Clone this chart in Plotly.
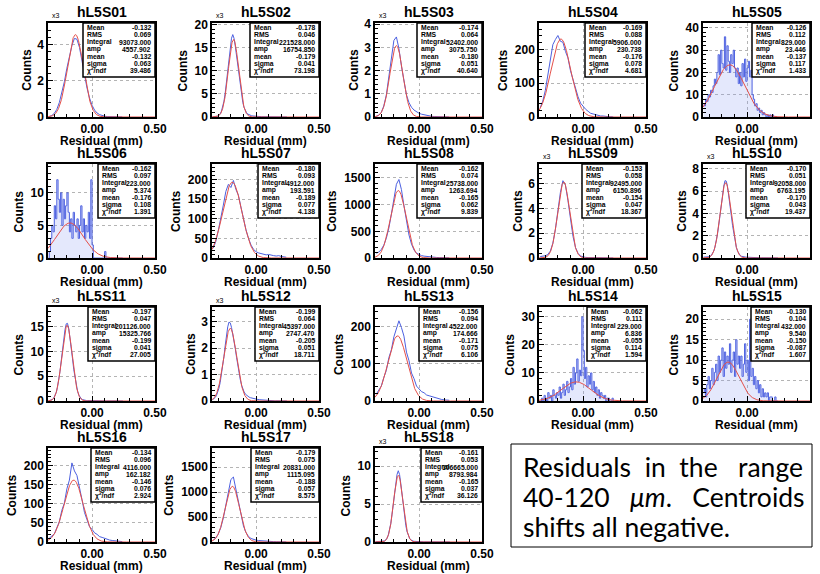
import numpy as np
import plotly.graph_objects as go

# ---------------------------------------------------------------- data
NAMES = ["hL5S01", "hL5S02", "hL5S03", "hL5S04", "hL5S05", "hL5S06",
         "hL5S07", "hL5S08", "hL5S09", "hL5S10", "hL5S11", "hL5S12",
         "hL5S13", "hL5S14", "hL5S15", "hL5S16", "hL5S17", "hL5S18"]

# bin width of each stored histogram; first bin starts at -0.35 mm
BIN_WIDTH = [0.02, 0.01, 0.02, 0.02, 0.01, 0.01, 0.02, 0.02, 0.02,
             0.01, 0.01, 0.01, 0.02, 0.01, 0.01, 0.02, 0.02, 0.01]

# bin contents (counts per bin)
hist_S01 = [30, 80, 200, 420, 800, 1300, 1950, 2700, 3400, 3950, 4350, 4300, 3850, 3100, 2300,
            1600, 1050, 650, 380, 220, 130, 80, 45, 25, 15, 8, 5, 3, 2, 1]
hist_S02 = [20, 30, 50, 90, 180, 360, 680, 1250, 2100, 3400, 5200, 7400, 9900, 12500, 15000,
            17000, 17800, 17000, 15300, 13200, 10800, 8500, 6300, 4500, 3100, 2050, 1350, 900, 620, 450,
            340, 270, 220, 180, 150, 130, 110, 95, 80, 70, 60, 52, 45, 38, 32,
            27, 22, 18, 15, 12, 10, 8, 7, 6, 5, 4, 3, 3, 2, 2]
hist_S03 = [30, 80, 200, 480, 950, 1700, 2550, 3300, 3450, 2950, 2200, 1500, 950, 620, 420,
            300, 220, 160, 120, 90, 65, 45, 30, 20, 12, 8, 5, 3, 2, 1]
hist_S04 = [28, 47, 78, 124, 166, 214, 229, 241, 224, 221, 194, 175, 137, 111, 80,
            60, 41, 31, 23, 17, 11, 9, 7, 4, 3, 3, 1, 1, 1, 0]
hist_S05 = [6, 5, 8, 7, 10, 9, 12, 11, 14, 17, 15, 20, 28, 19, 30, 24, 22, 36, 21, 32,
            25, 20, 28, 24, 30, 22, 18, 22, 15, 20, 14, 24, 18, 26, 16, 22, 25, 18, 21, 10,
            8, 5, 6, 3, 4, 2, 3, 1, 2, 1, 0, 1, 0, 1, 0, 1, 0, 0, 0, 0]
hist_S06 = [0, 1, 3, 5, 4, 8, 6, 12, 9, 7, 10, 5, 9, 6, 8, 10, 7, 4, 6, 3,
            7, 5, 4, 6, 3, 5, 8, 4, 6, 3, 5, 4, 7, 3, 12, 2, 0, 0, 0, 0,
            0, 0, 0, 0, 0, 1, 0, 0, 0, 0, 0, 0, 0, 0, 0, 0, 0, 0, 0, 0]
hist_S07 = [25, 42, 70, 100, 135, 170, 188, 180, 198, 175, 160, 130, 100, 72, 50,
            33, 22, 16, 13, 11, 10, 8, 9, 7, 6, 5, 6, 4, 3, 2]
hist_S08 = [90, 110, 160, 240, 370, 560, 820, 1080, 1380, 1470, 1280, 980, 680, 430, 260,
            150, 90, 60, 45, 35, 28, 22, 17, 13, 10, 8, 6, 4, 3, 2]
hist_S09 = [120, 150, 180, 280, 560, 1200, 2300, 3800, 5300, 6250, 5900, 4650, 3100, 1750, 850,
            380, 160, 80, 50, 35, 25, 18, 12, 9, 7, 5, 4, 3, 2, 1]
hist_S10 = [80, 80, 90, 90, 100, 120, 220, 370, 620, 980, 1500, 2150, 2950, 3850, 4850,
            5750, 6450, 6950, 6900, 6400, 5650, 4750, 3800, 2900, 2100, 1450, 950, 600, 380, 240,
            160, 120, 100, 85, 75, 65, 55, 50, 45, 40, 35, 30, 27, 24, 21,
            18, 16, 14, 12, 10, 9, 8, 7, 6, 5, 4, 3, 3, 2, 2]
hist_S11 = [40, 80, 160, 300, 560, 1000, 1700, 2750, 4150, 5950, 8100, 10400, 12600, 14400, 15600,
            15700, 14600, 12800, 10700, 8500, 6300, 4500, 3050, 1950, 1200, 720, 430, 270, 180, 130,
            100, 80, 65, 55, 45, 38, 32, 27, 22, 18, 15, 12, 10, 8, 7,
            6, 5, 4, 3, 3, 2, 2, 2, 1, 1, 1, 1, 0, 0, 0]
hist_S12 = [50, 80, 130, 200, 320, 480, 700, 980, 1300, 1680, 2100, 2500, 2800, 2980, 2950,
            2780, 2550, 2280, 1980, 1650, 1330, 1050, 800, 600, 450, 340, 260, 210, 170, 145,
            125, 110, 95, 85, 75, 65, 57, 50, 44, 38, 33, 28, 24, 20, 17,
            14, 12, 10, 8, 7, 6, 5, 4, 3, 3, 2, 2, 1, 1, 1]
hist_S13 = [18, 30, 40, 63, 82, 116, 137, 172, 191, 215, 197, 174, 131, 108, 75,
            60, 40, 33, 25, 22, 16, 14, 12, 8, 7, 6, 4, 3, 2, 2]
hist_S14 = [0, 0, 1, 0, 2, 1, 0, 3, 1, 2, 0, 4, 2, 1, 3, 2, 5, 1, 3, 6,
            2, 4, 7, 3, 5, 8, 4, 12, 6, 10, 15, 7, 11, 9, 30, 18, 8, 12, 5, 9,
            6, 10, 4, 7, 3, 5, 2, 4, 1, 3, 2, 1, 2, 0, 1, 1, 0, 0, 1, 0]
hist_S15 = [2, 3, 1, 4, 6, 3, 5, 8, 4, 7, 9, 5, 11, 7, 10, 13, 6, 12, 8, 11,
            9, 14, 7, 10, 12, 6, 15, 9, 11, 8, 11, 6, 9, 14, 7, 10, 5, 20, 6, 8,
            4, 6, 3, 5, 2, 4, 1, 3, 1, 2, 1, 2, 0, 1, 1, 0, 0, 1, 0, 0]
hist_S16 = [10, 16, 21, 37, 53, 83, 102, 139, 162, 207, 186, 174, 137, 111, 77,
            60, 40, 33, 24, 20, 14, 12, 9, 7, 5, 4, 3, 2, 2, 1]
hist_S17 = [40, 80, 160, 290, 480, 730, 1000, 1250, 1300, 1050, 760, 510, 320, 190, 110,
            70, 50, 38, 30, 24, 19, 15, 12, 9, 7, 5, 4, 3, 2, 1]
hist_S18 = [30, 35, 40, 45, 50, 60, 80, 130, 250, 480, 880, 1500, 2400, 3600, 5000,
            6500, 7900, 8900, 9400, 8900, 7700, 6200, 4600, 3250, 2150, 1350, 820, 480, 280, 170,
            110, 80, 60, 48, 40, 34, 29, 25, 21, 18, 15, 13, 11, 9, 8,
            7, 6, 5, 4, 4, 3, 3, 2, 2, 2, 1, 1, 1, 1, 0]

HISTS = [hist_S01, hist_S02, hist_S03, hist_S04, hist_S05, hist_S06, hist_S07, hist_S08, hist_S09,
         hist_S10, hist_S11, hist_S12, hist_S13, hist_S14, hist_S15, hist_S16, hist_S17, hist_S18]

# statistics of each histogram
HIST_MEAN = [-0.132, -0.178, -0.174, -0.169, -0.126, -0.162, -0.180, -0.162, -0.153,
             -0.170, -0.197, -0.199, -0.156, -0.062, -0.130, -0.134, -0.179, -0.161]
HIST_RMS = [0.069, 0.046, 0.064, 0.088, 0.112, 0.097, 0.093, 0.074, 0.058,
            0.051, 0.047, 0.064, 0.094, 0.111, 0.104, 0.096, 0.075, 0.053]
HIST_INTEGRAL = [93073, 221528, 52402, 5906, 829, 223, 4912, 25738, 92495,
                 92058, 201126, 45397, 4522, 229, 432, 4116, 20831, 106665]

# gaussian fit results
FIT_AMP = [4557.902, 16754.850, 3075.750, 230.738, 23.446, 5.374, 193.591, 1263.694, 6150.896,
           6763.195, 15325.766, 2747.470, 174.666, 6.836, 9.540, 162.182, 1115.095, 8793.984]
FIT_MEAN = [-0.132, -0.179, -0.180, -0.176, -0.137, -0.176, -0.189, -0.165, -0.154,
            -0.170, -0.199, -0.205, -0.171, -0.055, -0.150, -0.146, -0.188, -0.165]
FIT_SIGMA = [0.063, 0.041, 0.051, 0.078, 0.117, 0.108, 0.077, 0.062, 0.047,
             0.043, 0.041, 0.051, 0.075, 0.114, -0.087, 0.076, 0.057, 0.037]
FIT_CHI2 = [39.486, 73.198, 40.640, 4.681, 1.433, 1.391, 4.138, 9.839, 18.367,
            19.437, 27.005, 18.711, 6.106, 1.594, 1.607, 2.924, 8.575, 36.126]

# y axis settings (top of range in axis units, major tick step, power of ten)
Y_MAX = [5.2, 20.3, 4.05, 278, 42.2, 14.4, 240, 1760, 7.6,
         8.44, 19.0, 3.55, 252, 33.5, 23.0, 246, 1880, 12.4]
Y_DTICK = [2, 5, 1, 100, 10, 5, 50, 500, 2, 2, 5, 1, 100, 10, 5, 50, 500, 5]
Y_EXP = [3, 3, 3, 0, 0, 0, 0, 0, 3, 3, 3, 3, 0, 0, 0, 0, 0, 3]

NOISY = {"hL5S05", "hL5S06", "hL5S14", "hL5S15"}

NB = "\u00a0"
NOTE_LINES = ["Residuals" + NB * 2 + "in" + NB * 2 + "the" + NB * 3 + "range",
              "40-120" + NB * 3 + "<i>μm</i>." + NB * 3 + "Centroids",
              "shifts all negative."]

# ---------------------------------------------------------------- layout geometry (px)
W, H = 820, 574
COL_LEFT = [48, 212, 375, 539, 703]
ROW_TOP = [23, 164, 307, 448]
PLOT_W, PLOT_H = 107, 94
STAT_W = [72, 69, 65, 61, 58, 57, 61, 65, 64, 64, 67, 64, 63, 59, 59, 64, 68, 61]
STAT_H = 54
X_RANGE = [-0.35, 0.5]

BLUE = "#4c60e0"
RED = "#e5504a"
FONT = "Liberation Sans"


def px(x):
    return x / W


def py(y):
    return 1 - y / H


fig = go.Figure()
annotations = []
shapes = []

stat_labels = ["Mean", "RMS", "Integral", "amp", "mean", "sigma", "χ<sup>2</sup>/ndf"]
axis_font = dict(family=FONT, size=12, color="black", weight="bold")

for k, name in enumerate(NAMES):
    r, c = divmod(k, 5)
    x0, y0 = COL_LEFT[c], ROW_TOP[r]
    suffix = "" if k == 0 else str(k + 1)
    scale = 10 ** Y_EXP[k]

    counts = np.array(HISTS[k], dtype=float) / scale
    centres = X_RANGE[0] + BIN_WIDTH[k] * (np.arange(len(counts)) + 0.5)
    noisy = name in NOISY
    fig.add_trace(go.Scatter(
        x=centres, y=counts, mode="lines",
        line=dict(color=BLUE, width=1, shape="hvh" if noisy else "linear"),
        fill="tozeroy" if noisy else "none",
        fillcolor="rgba(130,150,240,0.22)",
        xaxis="x" + suffix, yaxis="y" + suffix,
        hoverinfo="skip", showlegend=False))

    xf = np.linspace(X_RANGE[0], X_RANGE[1], 500)
    yf = FIT_AMP[k] * np.exp(-0.5 * ((xf - FIT_MEAN[k]) / FIT_SIGMA[k]) ** 2) / scale
    fig.add_trace(go.Scatter(
        x=xf, y=yf, mode="lines", line=dict(color=RED, width=1),
        xaxis="x" + suffix, yaxis="y" + suffix,
        hoverinfo="skip", showlegend=False))

    fig.layout["xaxis" + suffix] = dict(
        domain=[px(x0), px(x0 + PLOT_W)], anchor="y" + suffix,
        range=X_RANGE, tickmode="array", tickvals=[0, 0.5], ticktext=["0.00", "0.50"],
        ticks="inside", ticklen=5, tickcolor="black",
        minor=dict(ticks="inside", ticklen=3, tickcolor="black",
                   tickvals=[-0.3, -0.2, -0.1, 0.1, 0.2, 0.3, 0.4], showgrid=False),
        showgrid=True, gridcolor="#b4b4b4", griddash="dot", gridwidth=1,
        showline=True, mirror=True, linecolor="black", linewidth=1.5,
        zeroline=False, automargin=False, tickfont=axis_font)
    fig.layout["yaxis" + suffix] = dict(
        domain=[py(y0 + PLOT_H), py(y0)], anchor="x" + suffix,
        range=[0, Y_MAX[k]], tick0=0, dtick=Y_DTICK[k],
        ticks="inside", ticklen=5, tickcolor="black",
        minor=dict(ticks="inside", ticklen=3, tickcolor="black",
                   tick0=0, dtick=Y_DTICK[k] / 5, showgrid=False),
        showgrid=True, gridcolor="#b4b4b4", griddash="dot", gridwidth=1,
        showline=True, mirror=True, linecolor="black", linewidth=1.5,
        zeroline=False, automargin=False, tickfont=axis_font)

    # axis titles, the y one clearing the widest tick label
    top_tick = int(Y_MAX[k] // Y_DTICK[k] * Y_DTICK[k])
    n_digits = len(str(top_tick))
    annotations.append(dict(
        x=px(x0 - 14 - 7.3 * n_digits), y=py(y0 + PLOT_H / 2), xref="paper", yref="paper",
        text="<b>Counts</b>", textangle=-90, showarrow=False,
        xanchor="center", yanchor="middle", font=dict(family=FONT, size=12, color="black")))
    annotations.append(dict(
        x=px(x0 + PLOT_W / 2), y=py(y0 + PLOT_H + 24), xref="paper", yref="paper",
        text="<b>Residual (mm)</b>", showarrow=False,
        xanchor="center", yanchor="middle", font=dict(family=FONT, size=12, color="black")))

    # histogram title
    annotations.append(dict(
        x=px(x0 + PLOT_W / 2), y=py(y0 - 11), xref="paper", yref="paper",
        text="<b>%s</b>" % name, showarrow=False, xanchor="center", yanchor="middle",
        font=dict(family=FONT, size=14, color="black")))
    if Y_EXP[k]:
        annotations.append(dict(
            x=px(x0 + 2), y=py(y0 - 7), xref="paper", yref="paper",
            text="x%d" % Y_EXP[k], showarrow=False, xanchor="left", yanchor="middle",
            font=dict(family=FONT, size=7, color="black")))

    # statistics box
    bx1 = x0 + PLOT_W
    bx0 = bx1 - STAT_W[k]
    shapes.append(dict(type="rect", xref="paper", yref="paper",
                       x0=px(bx0), x1=px(bx1), y0=py(y0 + STAT_H), y1=py(y0),
                       line=dict(color="black", width=1.5), fillcolor="white", layer="above"))
    values = [HIST_MEAN[k], HIST_RMS[k], HIST_INTEGRAL[k], FIT_AMP[k],
              FIT_MEAN[k], FIT_SIGMA[k], FIT_CHI2[k]]
    for j, (lab, val) in enumerate(zip(stat_labels, values)):
        yy = py(y0 + 4.8 + 7.17 * j)
        annotations.append(dict(
            x=px(bx0 + 2), y=yy, xref="paper", yref="paper", text=lab,
            showarrow=False, xanchor="left", yanchor="middle",
            font=dict(family=FONT, size=6.8, color="black", weight="bold")))
        annotations.append(dict(
            x=px(bx1 - 2), y=yy, xref="paper", yref="paper", text="%.3f" % val,
            showarrow=False, xanchor="right", yanchor="middle",
            font=dict(family=FONT, size=6.8, color="black", weight="bold")))

# comment box
shapes.append(dict(type="rect", xref="paper", yref="paper",
                   x0=px(511), x1=px(812), y0=py(547), y1=py(444),
                   line=dict(color="black", width=1), fillcolor="white", layer="above"))
for j, line in enumerate(NOTE_LINES):
    annotations.append(dict(
        x=px(521), y=py(467 + 30 * j), xref="paper", yref="paper", text=line,
        showarrow=False, xanchor="left", yanchor="middle",
        font=dict(family="Lato", size=26.5, color="black")))

fig.update_layout(
    width=W, height=H, autosize=False,
    margin=dict(l=0, r=0, t=0, b=0),
    paper_bgcolor="white", plot_bgcolor="white",
    showlegend=False, annotations=annotations, shapes=shapes)

fig.write_html("out.html")
